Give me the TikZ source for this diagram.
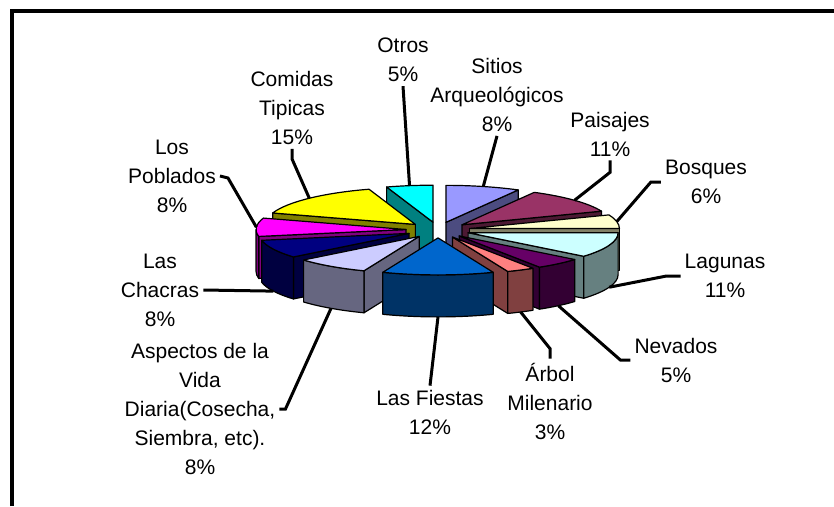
\documentclass[tikz,border=0pt]{standalone}
\usepackage{fontspec}
\setmainfont{Liberation Sans}
\usetikzlibrary{calc}

\definecolor{sit1}{HTML}{9999FF}
\definecolor{pai1}{HTML}{993366}
\definecolor{bos1}{HTML}{FFFFCC}
\definecolor{lag1}{HTML}{CCFFFF}
\definecolor{nev1}{HTML}{660066}
\definecolor{arb1}{HTML}{FF8080}
\definecolor{fie1}{HTML}{0066CC}
\definecolor{asp1}{HTML}{CCCCFF}
\definecolor{cha1}{HTML}{000080}
\definecolor{pob1}{HTML}{FF00FF}
\definecolor{com1}{HTML}{FFFF00}
\definecolor{otr1}{HTML}{00FFFF}
\colorlet{sit2}{sit1!50!black}
\colorlet{pai2}{pai1!50!black}
\colorlet{bos2}{bos1!50!black}
\colorlet{lag2}{lag1!50!black}
\colorlet{nev2}{nev1!50!black}
\colorlet{arb2}{arb1!50!black}
\colorlet{fie2}{fie1!50!black}
\colorlet{asp2}{asp1!50!black}
\colorlet{cha2}{cha1!50!black}
\colorlet{pob2}{pob1!50!black}
\colorlet{com2}{com1!50!black}
\colorlet{otr2}{otr1!50!black}

\begin{document}
\begin{tikzpicture}
[x=1pt, y=-1pt,
every node/.style={font=\fontsize{21}{29}\selectfont, align=center, inner sep=4pt},
face/.style={draw=black, line width=1.2pt, line join=round},
rim/.style={x radius=150, y radius=37},
leader/.style={line width=3pt}]

\useasboundingbox (0,0) rectangle (834,506);
\fill[white] (0,0) rectangle (834,506);
\draw[line width=4pt] (11.5,506) -- (11.5,10.5) -- (834,10.5);

% centre of the pie, and the exploded tip of every slice
\coordinate (c) at (438,230);
\foreach \n/\m in {sit/-75.6, pai/-41.4, bos/-10.8, lag/19.8, nev/48.6, arb/63,
  fie/90, asp/126, cha/154.8, pob/183.6, com/225, otr/261}
  \coordinate (\n) at ($(c)+(\m:32 and 7.9)$);

% Otros
\filldraw[face, fill=otr2] (otr) -- ++(252:150 and 37) -- ++(0,42) -- ($(otr)+(0,42)$) -- cycle;
\filldraw[face, fill=otr1] (otr) -- ++(252:150 and 37) arc[rim, start angle=252, end angle=270] -- cycle;
% Sitios
\filldraw[face, fill=sit2] (sit) -- ++(-61.2:150 and 37) -- ++(0,42) -- ($(sit)+(0,42)$) -- cycle;
\filldraw[face, fill=sit1] (sit) -- ++(-90:150 and 37) arc[rim, start angle=-90, end angle=-61.2] -- cycle;
% Comidas
\filldraw[face, fill=com2] (com) -- ++(198:150 and 37) -- ++(0,42) -- ($(com)+(0,42)$) -- cycle;
\filldraw[face, fill=com1] (com) -- ++(198:150 and 37) arc[rim, start angle=198, end angle=252] -- cycle;
% Paisajes
\filldraw[face, fill=pai2] (pai) -- ++(-21.6:150 and 37) -- ++(0,42) -- ($(pai)+(0,42)$) -- cycle;
\filldraw[face, fill=pai1] (pai) -- ++(-61.2:150 and 37) arc[rim, start angle=-61.2, end angle=-21.6] -- cycle;
% Bosques
\filldraw[face, fill=bos2] (bos) -- ++(0:150 and 37) -- ++(0,42) -- ($(bos)+(0,42)$) -- cycle;
\filldraw[face, fill=bos1] (bos) -- ++(-21.6:150 and 37) arc[rim, start angle=-21.6, end angle=0] -- cycle;
% Los Poblados
\filldraw[face, fill=pob2] (pob) -- ++(169.2:150 and 37) -- ++(0,42) -- ($(pob)+(0,42)$) -- cycle;
\filldraw[face, fill=pob2] (pob) ++(169.2:150 and 37) arc[rim, start angle=169.2, end angle=180] -- ++(0,42) arc[rim, start angle=180, end angle=169.2] -- cycle;
\filldraw[face, fill=pob1] (pob) -- ++(169.2:150 and 37) arc[rim, start angle=169.2, end angle=198] -- cycle;
% Lagunas
\filldraw[face, fill=lag2] (lag) -- ++(39.6:150 and 37) -- ++(0,42) -- ($(lag)+(0,42)$) -- cycle;
\filldraw[face, fill=lag2] (lag) ++(0:150 and 37) arc[rim, start angle=0, end angle=39.6] -- ++(0,42) arc[rim, start angle=39.6, end angle=0] -- cycle;
\filldraw[face, fill=lag1] (lag) -- ++(0:150 and 37) arc[rim, start angle=0, end angle=39.6] -- cycle;
% Las Chacras
\filldraw[face, fill=cha2] (cha) -- ++(140.4:150 and 37) -- ++(0,42) -- ($(cha)+(0,42)$) -- cycle;
\filldraw[face, fill=cha2] (cha) ++(140.4:150 and 37) arc[rim, start angle=140.4, end angle=169.2] -- ++(0,42) arc[rim, start angle=169.2, end angle=140.4] -- cycle;
\filldraw[face, fill=cha1] (cha) -- ++(140.4:150 and 37) arc[rim, start angle=140.4, end angle=169.2] -- cycle;
% Nevados
\filldraw[face, fill=nev2] (nev) -- ++(57.6:150 and 37) -- ++(0,42) -- ($(nev)+(0,42)$) -- cycle;
\filldraw[face, fill=nev2] (nev) ++(39.6:150 and 37) arc[rim, start angle=39.6, end angle=57.6] -- ++(0,42) arc[rim, start angle=57.6, end angle=39.6] -- cycle;
\filldraw[face, fill=nev1] (nev) -- ++(39.6:150 and 37) arc[rim, start angle=39.6, end angle=57.6] -- cycle;
% Aspectos de la Vida Diaria
\filldraw[face, fill=asp2] (asp) -- ++(111.6:150 and 37) -- ++(0,42) -- ($(asp)+(0,42)$) -- cycle;
\filldraw[face, fill=asp2] (asp) ++(111.6:150 and 37) arc[rim, start angle=111.6, end angle=140.4] -- ++(0,42) arc[rim, start angle=140.4, end angle=111.6] -- cycle;
\filldraw[face, fill=asp1] (asp) -- ++(111.6:150 and 37) arc[rim, start angle=111.6, end angle=140.4] -- cycle;
% Arbol Milenario
\filldraw[face, fill=arb2] (arb) -- ++(68.4:150 and 37) -- ++(0,42) -- ($(arb)+(0,42)$) -- cycle;
\filldraw[face, fill=arb2] (arb) ++(57.6:150 and 37) arc[rim, start angle=57.6, end angle=68.4] -- ++(0,42) arc[rim, start angle=68.4, end angle=57.6] -- cycle;
\filldraw[face, fill=arb1] (arb) -- ++(57.6:150 and 37) arc[rim, start angle=57.6, end angle=68.4] -- cycle;
% Las Fiestas
\filldraw[face, fill=fie2] (fie) ++(68.4:150 and 37) arc[rim, start angle=68.4, end angle=111.6] -- ++(0,42) arc[rim, start angle=111.6, end angle=68.4] -- cycle;
\filldraw[face, fill=fie1] (fie) -- ++(68.4:150 and 37) arc[rim, start angle=68.4, end angle=111.6] -- cycle;

% where the leaders meet the slices
\coordinate (otr-e) at ($(otr)+(261:150 and 37)$);
\coordinate (sit-e) at ($(sit)+(-75.6:150 and 37)$);
\coordinate (com-e) at ($(com)+(225:150 and 37)$);
\coordinate (pai-e) at ($(pai)+(-41.4:150 and 37)$);
\coordinate (bos-e) at ($(bos)+(-10.8:150 and 37)$);
\coordinate (pob-e) at ($(pob)+(183.6:150 and 37)$);
\coordinate (lag-e) at ($(lag)+(19.8:150 and 37)+(0,42)$);
\coordinate (cha-e) at ($(cha)+(154.8:150 and 37)+(0,42)$);
\coordinate (nev-e) at ($(nev)+(48.6:150 and 37)+(0,42)$);
\coordinate (asp-e) at ($(asp)+(126:150 and 37)+(0,42)$);
\coordinate (arb-e) at ($(arb)+(63:150 and 37)+(0,42)$);
\coordinate (fie-e) at ($(fie)+(90:150 and 37)+(0,42)$);

% labels
\node (otr-t) at (403,60) {Otros\\5\%};
\node (sit-t) at (497,95) {Sitios\\Arqueológicos\\8\%};
\node (pai-t) at (610,134) {Paisajes\\11\%};
\node (bos-t) at (706,182) {Bosques\\6\%};
\node (lag-t) at (725,276) {Lagunas\\11\%};
\node (nev-t) at (676,360) {Nevados\\5\%};
\node (arb-t) at (550,401) {Árbol\\Milenario\\3\%};
\node (fie-t) at (430,412) {Las Fiestas\\12\%};
\node (asp-t) at (200,409) {Aspectos de la\\Vida\\Diaria(Cosecha,\\Siembra, etc).\\8\%};
\node (cha-t) at (160,290) {Las\\Chacras\\8\%};
\node (pob-t) at (172,176) {Los\\Poblados\\8\%};
\node (com-t) at (292,108) {Comidas\\Tipicas\\15\%};

\draw[leader] (otr-t.south) -- (otr-e);
\draw[leader] (sit-t.south) -- (sit-e);
\draw[leader] (pai-t.south) -- ++(0,12) -- (pai-e);
\draw[leader] (bos-t.west) -- ++(-10,0) -- (bos-e);
\draw[leader] (lag-t.west) -- ++(-14,0) -- (lag-e);
\draw[leader] (nev-t.west) -- ++(-10,0) -- (nev-e);
\draw[leader] (arb-t.north) -- ++(0,-10) -- (arb-e);
\draw[leader] (fie-t.north) -- (fie-e);
\draw[leader] (asp-t.east) -- ++(6,0) -- (asp-e);
\draw[leader] (cha-t.east) -- (cha-e);
\draw[leader] (pob-t.east) -- ++(8,2) -- (pob-e);
\draw[leader] (com-t.south) -- ++(0,10) -- (com-e);
\end{tikzpicture}
\end{document}
